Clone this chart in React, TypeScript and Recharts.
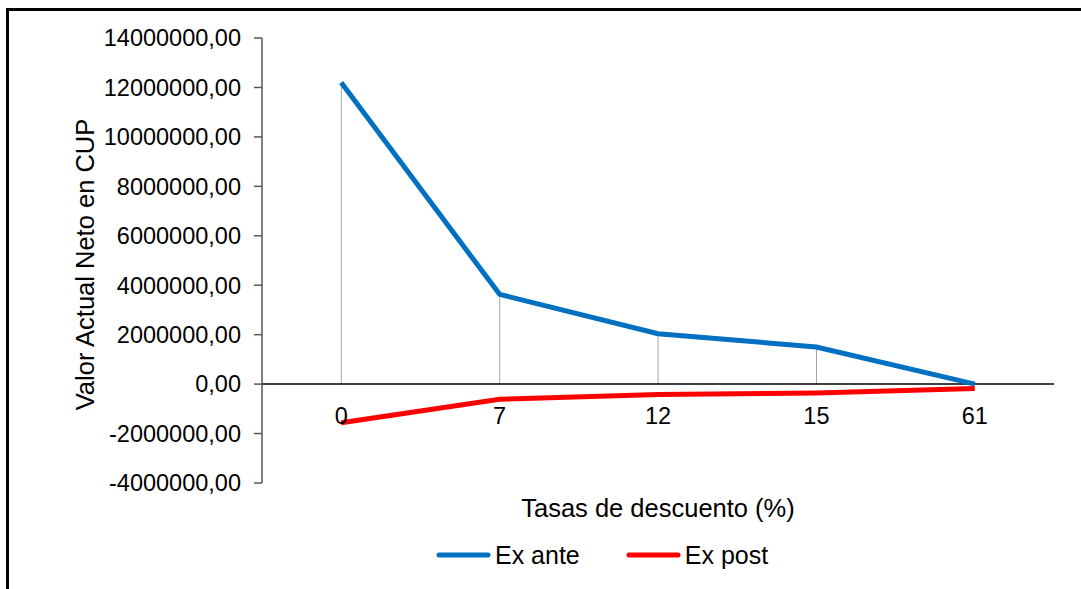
import React from "react";
import { ComposedChart, Line, Bar, XAxis, YAxis, ReferenceLine, Legend } from "recharts";

const categories = ["0", "7", "12", "15", "61"];
const exAnte = [12200000, 3630000, 2040000, 1500000, 0];
const exPost = [-1560000, -610000, -420000, -360000, -180000];
const yTicks = [-4000000, -2000000, 0, 2000000, 4000000, 6000000, 8000000, 10000000, 12000000, 14000000];

const BLUE = "#0070C0";
const RED = "#FF0000";
const FONT = "'Liberation Sans', Arial, sans-serif";

const data = categories.map((c, i) => ({ tasa: c, exAnte: exAnte[i], exPost: exPost[i] }));

function fmt(v: number) {
  return v.toFixed(2).replace(".", ",");
}

function DropLine(props: any) {
  const { x, y, width, height } = props;
  const cx = x + width / 2;
  return <line x1={cx} x2={cx} y1={y} y2={y + height} stroke="#a6a6a6" strokeWidth={1} />;
}

function XTick(props: any) {
  const { x, y, payload } = props;
  return (
    <text x={x} y={y} dy={-67} textAnchor="middle" dominantBaseline="central" fill="#000" fontSize={23.5} fontFamily={FONT}>
      {payload.value}
    </text>
  );
}

function LegendContent() {
  const item = (color: string, label: string, ml: number) => (
    <div style={{ display: "flex", alignItems: "center", marginLeft: ml }}>
      <svg width={55} height={8}>
        <line x1={3} x2={52} y1={4} y2={4} stroke={color} strokeWidth={5} strokeLinecap="round" />
      </svg>
      <span style={{ marginLeft: 4, fontSize: 25, fontFamily: FONT, color: "#000" }}>{label}</span>
    </div>
  );
  return (
    <div style={{ height: 30, display: "flex", alignItems: "center", paddingLeft: 427 }}>
      {item(BLUE, "Ex ante", 0)}
      {item(RED, "Ex post", 46)}
    </div>
  );
}

export default function App() {
  return (
    <>
      <style>{"body{margin:0;overflow:hidden;background:#fff}"}</style>
      <div
        style={{
          position: "absolute",
          left: 6,
          top: 8,
          borderLeft: "3px solid #000",
          borderTop: "3px solid #000",
          width: 1072,
          height: 578,
        }}
      >
        <ComposedChart width={1072} height={578} data={data} margin={{ top: 27, right: 27, left: 0, bottom: 19 }}>
          <YAxis
            width={253}
            domain={[-4000000, 14000000]}
            ticks={yTicks}
            tickFormatter={fmt}
            interval={0}
            axisLine={{ stroke: "#595959", strokeWidth: 1.5 }}
            tickLine={{ stroke: "#595959", strokeWidth: 1.5 }}
            tickSize={8}
            tickMargin={13}
            tick={{ fill: "#000", fontSize: 23.5, fontFamily: FONT }}
            label={(p: any) => {
              const vb = p.viewBox;
              const cx = vb.x + 76;
              const cy = vb.y + vb.height / 2 + 4;
              return (
                <text
                  x={cx}
                  y={cy}
                  transform={`rotate(-90 ${cx} ${cy})`}
                  textAnchor="middle"
                  dominantBaseline="central"
                  fill="#000"
                  fontSize={25.5}
                  fontFamily={FONT}
                >
                  Valor Actual Neto en CUP
                </text>
              );
            }}
          />
          <XAxis
            dataKey="tasa"
            height={57}
            axisLine={false}
            tickLine={false}
            tickSize={0}
            tickMargin={0}
            interval={0}
            tick={<XTick />}
            label={(p: any) => {
              const vb = p.viewBox;
              return (
                <text
                  x={vb.x + vb.width / 2}
                  y={vb.y + 25}
                  textAnchor="middle"
                  dominantBaseline="central"
                  fill="#000"
                  fontSize={25.5}
                  fontFamily={FONT}
                >
                  Tasas de descuento (%)
                </text>
              );
            }}
          />
          <ReferenceLine y={0} stroke="#000" strokeWidth={1.5} />
          <Bar dataKey="exAnte" shape={<DropLine />} isAnimationActive={false} legendType="none" />
          <Line type="linear" dataKey="exAnte" name="Ex ante" stroke={BLUE} strokeWidth={5} dot={false} isAnimationActive={false} />
          <Line type="linear" dataKey="exPost" name="Ex post" stroke={RED} strokeWidth={5} dot={false} isAnimationActive={false} />
          <Legend verticalAlign="bottom" content={<LegendContent />} wrapperStyle={{ left: 0, width: 1072 }} />
        </ComposedChart>
      </div>
    </>
  );
}
